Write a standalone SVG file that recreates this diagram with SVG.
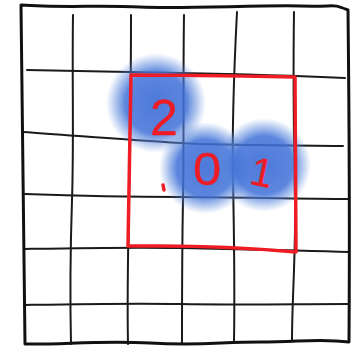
<svg xmlns="http://www.w3.org/2000/svg" width="357" height="354" viewBox="0 0 357 354">
<defs>
<radialGradient id="blob">
<stop offset="0" stop-color="#3a6ad6" stop-opacity="0.9"/>
<stop offset="0.62" stop-color="#4272d8" stop-opacity="0.86"/>
<stop offset="0.82" stop-color="#5584dc" stop-opacity="0.45"/>
<stop offset="1" stop-color="#6a94e0" stop-opacity="0"/>
</radialGradient>
<style>
.g{fill:none;stroke:#1a1a1a;stroke-width:2;stroke-linecap:round;stroke-linejoin:round}
.b{fill:none;stroke:#111;stroke-width:3;stroke-linecap:round;stroke-linejoin:round}
.r{fill:none;stroke:#ee1c25;stroke-width:3.5;stroke-linecap:round;stroke-linejoin:round}
.d{font-family:"Liberation Sans",Arial,sans-serif;fill:#ee1c25;stroke:#ee1c25;stroke-width:0.3;text-anchor:middle}
</style>
</defs>
<rect width="357" height="354" fill="#ffffff"/>
<g id="grid">
<path class="g" d="M73,15 C72,80 74,140 72,200 S70,300 71,344"/>
<path class="g" d="M131,15 C131,80 130,150 129,200 S127,300 128,344"/>
<path class="g" d="M184,15 C183,80 184,150 183,200 S182,300 182,344"/>
<path class="g" d="M237,12 C234,70 232,130 233,180 S235,280 234,342"/>
<path class="g" d="M294,12 C293,80 294,150 295,200 S292,300 292,340"/>
<path class="g" d="M27,70 C80,71 130,72 180,73 S300,76 345,78"/>
<path class="g" d="M23,132 C80,136 130,140 180,143 S300,145 343,146"/>
<path class="g" d="M25,194 C80,196 130,197 180,197 S300,199 349,199"/>
<path class="g" d="M25,249 C80,248 130,247 180,248 S300,250 349,252"/>
<path class="g" d="M25,305 C80,304 130,303 180,304 S300,304 349,304"/>
<path class="b" d="M21,5 C60,8 100,5 140,7 S260,5 300,6 S330,3 348,10 C349,100 350,200 349,342 C320,338 300,342 260,342 S200,346 150,343 S60,345 25,344 C23,250 22,150 21,5 Z"/>
</g>
<g id="blobs">
<circle cx="156" cy="103" r="50" fill="url(#blob)"/>
<circle cx="205" cy="168" r="46" fill="url(#blob)"/>
<circle cx="264" cy="165" r="47" fill="url(#blob)"/>
</g>
<g id="square">
<path class="r" d="M131,75 C180,75 240,76 295,77 C295,130 296,190 296,252 C250,248 200,246 160,246 L128,246 C129,190 130,130 131,75 Z"/>
<path class="r" d="M163,185 L164,190" stroke-width="1.2"/>
</g>
<g id="digits">
<text class="d" x="164" y="135" font-size="50">2</text>
<text class="d" x="207" y="185" font-size="46" transform="translate(207 0) scale(1.1 1) translate(-207 0)">0</text>
<text class="d" x="262" y="186" font-size="40" transform="rotate(12 262 172)">1</text>
</g>
</svg>
